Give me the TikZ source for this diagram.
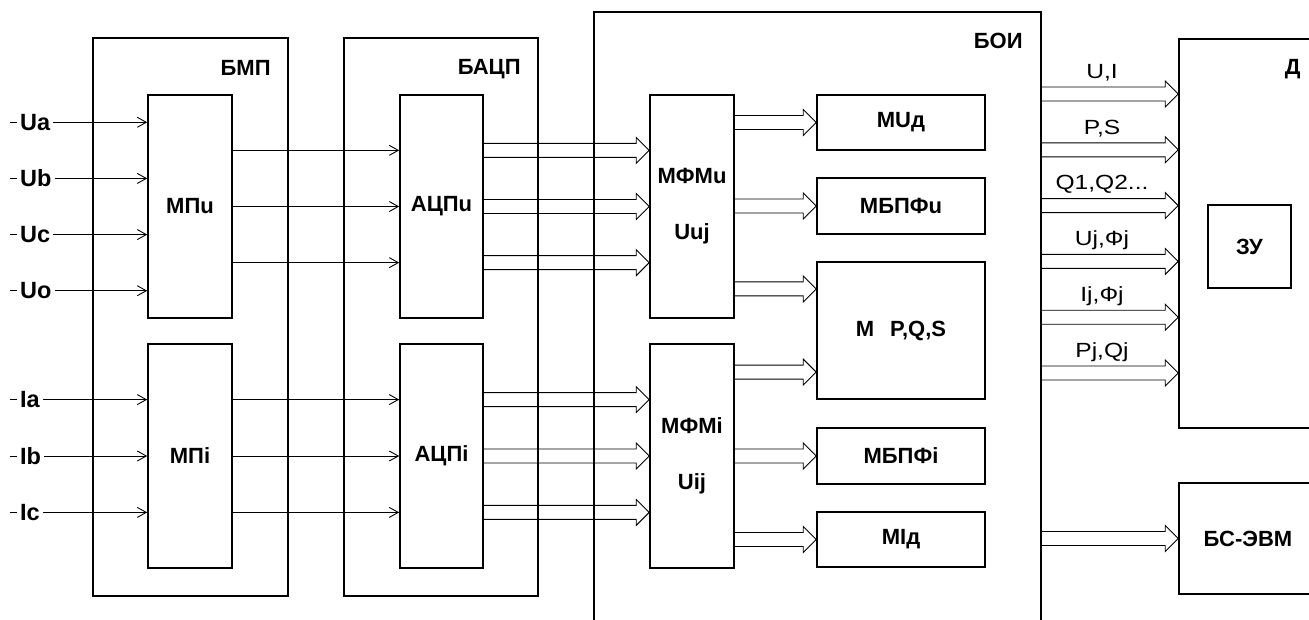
\documentclass[tikz,border=0pt]{standalone}
\usepackage{fontspec}
\setmainfont{Liberation Sans}
\newfontfamily\widesans[FakeStretch=1.2]{Liberation Sans}
\usetikzlibrary{arrows.meta,positioning,calc}

\tikzset{
  blk/.style={draw, line width=1.6pt, inner sep=0pt, align=center,
    font=\bfseries\fontsize{22}{26}\selectfont},
  outer/.style={draw, line width=1.6pt, inner sep=0pt},
  title/.style={anchor=east, inner sep=0pt, font=\bfseries\fontsize{22}{26}\selectfont},
  inlbl/.style={anchor=west, fill=white, inner xsep=3pt, inner ysep=1pt,
    font=\bfseries\fontsize{23.5}{27}\selectfont},
  outlbl/.style={inner sep=0pt, font=\widesans\fontsize{20.5}{24}\selectfont},
  sig/.style={line width=0.9pt, -{Straight Barb[length=9pt,width=10pt]}},
  bus/.style={line width=0.9pt, line join=miter}
}

% hollow double arrow (bus) from #1 to tip #2
\newcommand\busarrow[2]{%
  \coordinate (b-s) at (#1);
  \coordinate (b-t) at (#2);
  \draw[bus] ([shift={(0,-7)}]b-s) -- ([shift={(-13,-7)}]b-t)
    -- ([shift={(-13,-13)}]b-t) -- (b-t) -- ([shift={(-13,13)}]b-t)
    -- ([shift={(-13,7)}]b-t) -- ([shift={(0,7)}]b-s);}

\begin{document}
\begin{tikzpicture}[x=1pt, y=-1pt]
  \useasboundingbox (0,0) rectangle (1309,619);
  \clip (0,0) rectangle (1309,619);

  % outer blocks
  \node[outer, minimum width=195, minimum height=558] (bmp) at (190.5,317) {};
  \node[outer, minimum width=194, minimum height=558] (bacp) at (441,317) {};
  \node[outer, minimum width=447, minimum height=628] (boi) at (817.5,326) {};
  \node[outer, minimum width=138, minimum height=389] (disp) at (1248,233.5) {};
  \node[title] at ([shift={(-18,31)}]bmp.north east) {БМП};
  \node[title] at ([shift={(-18,32)}]bacp.north east) {БАЦП};
  \node[title] at ([shift={(-19,30)}]boi.north east) {БОИ};
  \node[title] at ([shift={(-17,31)}]disp.north east) {Д};

  % inner blocks
  \node[blk, minimum width=84, minimum height=223] (mpu) at (190,206.5) {МПu};
  \node[blk, minimum width=84, minimum height=224] (mpi) at (190,456) {МПi};
  \node[blk, minimum width=83, minimum height=223] (adcu) at (441.5,206.5) {АЦПu};
  \node[blk, minimum width=83, minimum height=224] (adci) at (441.5,456) {АЦПi};
  \node[blk, minimum width=84, minimum height=223] (mfmu) at (692,206.5) {МФМu\\[30pt]Uuj};
  \node[blk, minimum width=84, minimum height=224] (mfmi) at (692,456) {МФМi\\[30pt]Uij};
  \node[blk, minimum width=168, minimum height=55] (mud) at (901,122.5) {МUд};
  \node[blk, minimum width=168, minimum height=56] (mbpfu) at (901,206) {МБПФu};
  \node[blk, minimum width=168, minimum height=137] (pqs) at (901,330.5) {M\hspace{16pt}P,Q,S};
  \node[blk, minimum width=168, minimum height=56] (mbpfi) at (901,456) {МБПФi};
  \node[blk, minimum width=168, minimum height=55] (mid) at (901,539.5) {МIд};
  \node[blk, minimum width=83, minimum height=83] (zu) at (1249.5,246.5) {ЗУ};
  \node[blk, minimum width=138, minimum height=111] (bsevm) at (1248,538.5) {БС-ЭВМ};

  % inputs
  \foreach \k/\t in {1/Ua,3/Ub,5/Uc,7/Uo} {
    \coordinate (u\k) at ($(mpu.north west)!\k/8!(mpu.south west)$);
    \draw[sig] (10,0 |- u\k) -- (u\k);
    \node[inlbl] (in-\t) at (17,0 |- u\k) {\t};
  }
  \foreach \k/\t in {1/Ia,2/Ib,3/Ic} {
    \coordinate (i\k) at ($(mpi.north west)!\k/4!(mpi.south west)$);
    \draw[sig] (10,0 |- i\k) -- (i\k);
    \node[inlbl] (in-\t) at (17,0 |- i\k) {\t};
  }

  % МП -> АЦП -> МФМ
  \foreach \f in {0.25,0.5,0.75} {
    \draw[sig] ($(mpu.north east)!\f!(mpu.south east)$) -- ($(adcu.north west)!\f!(adcu.south west)$);
    \draw[sig] ($(mpi.north east)!\f!(mpi.south east)$) -- ($(adci.north west)!\f!(adci.south west)$);
    \busarrow{$(adcu.north east)!\f!(adcu.south east)$}{$(mfmu.north west)!\f!(mfmu.south west)$}
    \busarrow{$(adci.north east)!\f!(adci.south east)$}{$(mfmi.north west)!\f!(mfmi.south west)$}
  }

  % МФМ -> modules
  \coordinate (pqs1) at ($(pqs.north west)!.2!(pqs.south west)$);
  \coordinate (pqs2) at ($(pqs.north west)!.8!(pqs.south west)$);
  \busarrow{mfmu.east |- mud.west}{mud.west}
  \busarrow{mfmu.east |- mbpfu.west}{mbpfu.west}
  \busarrow{mfmu.east |- pqs1}{pqs1}
  \busarrow{mfmi.east |- pqs2}{pqs2}
  \busarrow{mfmi.east |- mbpfi.west}{mbpfi.west}
  \busarrow{mfmi.east |- mid.west}{mid.west}

  % БОИ -> Д
  \foreach \k/\t in {1/{U,I},2/{P,S},3/{Q1,Q2...},4/{Uj,Фj},5/{Ij,Фj},6/{Pj,Qj}} {
    \coordinate (d\k) at ($(disp.north west)!\k/7!(disp.south west)$);
    \busarrow{boi.east |- d\k}{d\k}
    \node[outlbl] (o\k) at ([shift={(-8,-21)}]$(boi.east |- d\k)!.5!(d\k)$) {\t};
  }

  % БОИ -> БС-ЭВМ
  \busarrow{boi.east |- bsevm.west}{bsevm.west}
\end{tikzpicture}
\end{document}
